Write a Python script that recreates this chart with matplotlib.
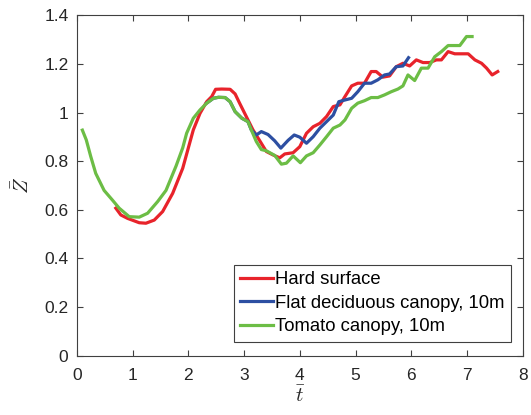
import matplotlib
matplotlib.use("Agg")
import matplotlib.pyplot as plt

plt.rcParams['font.family'] = ['Liberation Sans', 'DejaVu Sans']
plt.rcParams['mathtext.fontset'] = 'cm'

# Hard surface
t_hard = [0.70, 0.79, 0.91, 1.12, 1.24, 1.39, 1.54, 1.72, 1.90, 2.09, 2.21, 2.33, 2.42, 2.49,
          2.60, 2.75, 2.84, 2.92, 3.04, 3.16, 3.28, 3.40, 3.52, 3.64, 3.73, 3.88, 4.00, 4.12,
          4.24, 4.36, 4.48, 4.60, 4.72, 4.81, 4.93, 5.04, 5.16, 5.28, 5.37, 5.49, 5.61, 5.73,
          5.85, 5.97, 6.09, 6.21, 6.33, 6.45, 6.54, 6.66, 6.78, 6.90, 7.02, 7.14, 7.26, 7.35,
          7.45, 7.55]
z_hard = [0.607, 0.579, 0.565, 0.547, 0.545, 0.558, 0.593, 0.668, 0.771, 0.929, 0.997, 1.045,
          1.066, 1.096, 1.097, 1.096, 1.077, 1.039, 0.984, 0.929, 0.885, 0.840, 0.826, 0.814,
          0.830, 0.835, 0.860, 0.915, 0.942, 0.956, 0.984, 1.025, 1.032, 1.066, 1.110, 1.121,
          1.121, 1.169, 1.169, 1.146, 1.151, 1.189, 1.203, 1.192, 1.217, 1.206, 1.206, 1.217,
          1.217, 1.251, 1.242, 1.242, 1.242, 1.217, 1.203, 1.183, 1.155, 1.169]

# Flat deciduous canopy, 10m
t_flat = [2.33, 2.45, 2.54, 2.66, 2.75, 2.84, 2.96, 3.07, 3.13, 3.22, 3.31, 3.43, 3.55, 3.66,
          3.79, 3.90, 4.00, 4.12, 4.24, 4.36, 4.48, 4.60, 4.70, 4.81, 4.93, 5.04, 5.16, 5.28,
          5.40, 5.52, 5.61, 5.73, 5.85, 5.95]
z_flat = [1.039, 1.059, 1.063, 1.062, 1.045, 1.004, 0.977, 0.963, 0.929, 0.908, 0.922, 0.910,
          0.884, 0.854, 0.886, 0.908, 0.899, 0.874, 0.901, 0.936, 0.963, 0.990, 1.045, 1.052,
          1.059, 1.086, 1.121, 1.121, 1.135, 1.155, 1.159, 1.189, 1.192, 1.226]

# Tomato canopy, 10m
t_tom = [0.10, 0.17, 0.25, 0.34, 0.49, 0.64, 0.76, 0.94, 1.12, 1.27, 1.45, 1.60, 1.78, 1.90,
         1.97, 2.09, 2.21, 2.33, 2.45, 2.54, 2.66, 2.75, 2.84, 2.96, 3.07, 3.13, 3.22, 3.31,
         3.40, 3.55, 3.67, 3.76, 3.88, 4.01, 4.12, 4.24, 4.36, 4.48, 4.60, 4.72, 4.81, 4.93,
         5.04, 5.16, 5.28, 5.40, 5.52, 5.64, 5.76, 5.85, 5.94, 6.06, 6.18, 6.30, 6.42, 6.54,
         6.66, 6.78, 6.87, 6.99, 7.09]
z_tom = [0.928, 0.888, 0.820, 0.750, 0.680, 0.640, 0.607, 0.572, 0.570, 0.586, 0.634, 0.680,
         0.780, 0.855, 0.915, 0.977, 1.011, 1.039, 1.059, 1.063, 1.062, 1.045, 1.004, 0.977,
         0.963, 0.929, 0.881, 0.848, 0.843, 0.824, 0.788, 0.792, 0.822, 0.794, 0.822, 0.835,
         0.867, 0.901, 0.936, 0.949, 0.970, 1.018, 1.039, 1.049, 1.062, 1.062, 1.073, 1.086,
         1.097, 1.110, 1.155, 1.132, 1.183, 1.183, 1.230, 1.251, 1.276, 1.276, 1.276, 1.313,
         1.313]

x_ticks = [0, 1, 2, 3, 4, 5, 6, 7, 8]
y_ticks = [0, 0.2, 0.4, 0.6, 0.8, 1.0, 1.2, 1.4]
y_tick_labels = ['0', '0.2', '0.4', '0.6', '0.8', '1', '1.2', '1.4']

fig = plt.figure(figsize=(5.31, 4.15), dpi=100)
ax = fig.add_axes([0.1446, 0.1429, 0.840, 0.820])

lw = 2.3
ax.plot(t_hard, z_hard, color='#E8232B', lw=lw, label='Hard surface')
ax.plot(t_flat, z_flat, color='#2D4FA2', lw=lw, label='Flat deciduous canopy, 10m')
ax.plot(t_tom, z_tom, color='#6CBD45', lw=lw, label='Tomato canopy, 10m')

ax.set_xlim(0, 8)
ax.set_ylim(0, 1.4)
ax.set_xticks(x_ticks)
ax.set_xticklabels([str(v) for v in x_ticks])
ax.set_yticks(y_ticks)
ax.set_yticklabels(y_tick_labels)

edge = '#404040'
for s in ax.spines.values():
    s.set_color(edge)
    s.set_linewidth(0.8)
ax.tick_params(direction='in', top=True, right=True, length=4, width=0.8,
               color=edge, labelsize=12.5, labelcolor='#262626')
ax.tick_params(axis='x', pad=9)
ax.tick_params(axis='y', pad=6)

ax.set_xlabel(r'$\bar{t}$', fontsize=15, labelpad=2, color='#262626')
ax.set_ylabel(r'$\bar{Z}$', fontsize=15, labelpad=8, color='#262626')

leg = ax.legend(loc='lower right', bbox_to_anchor=(0.973, 0.041), fontsize=13.3,
                handlelength=1.75, handletextpad=0.12, borderpad=0.35, labelspacing=0.35,
                fancybox=False, framealpha=1, borderaxespad=0)
leg.get_frame().set_edgecolor(edge)
leg.get_frame().set_linewidth(0.8)

fig.savefig('out.png', dpi=100)
